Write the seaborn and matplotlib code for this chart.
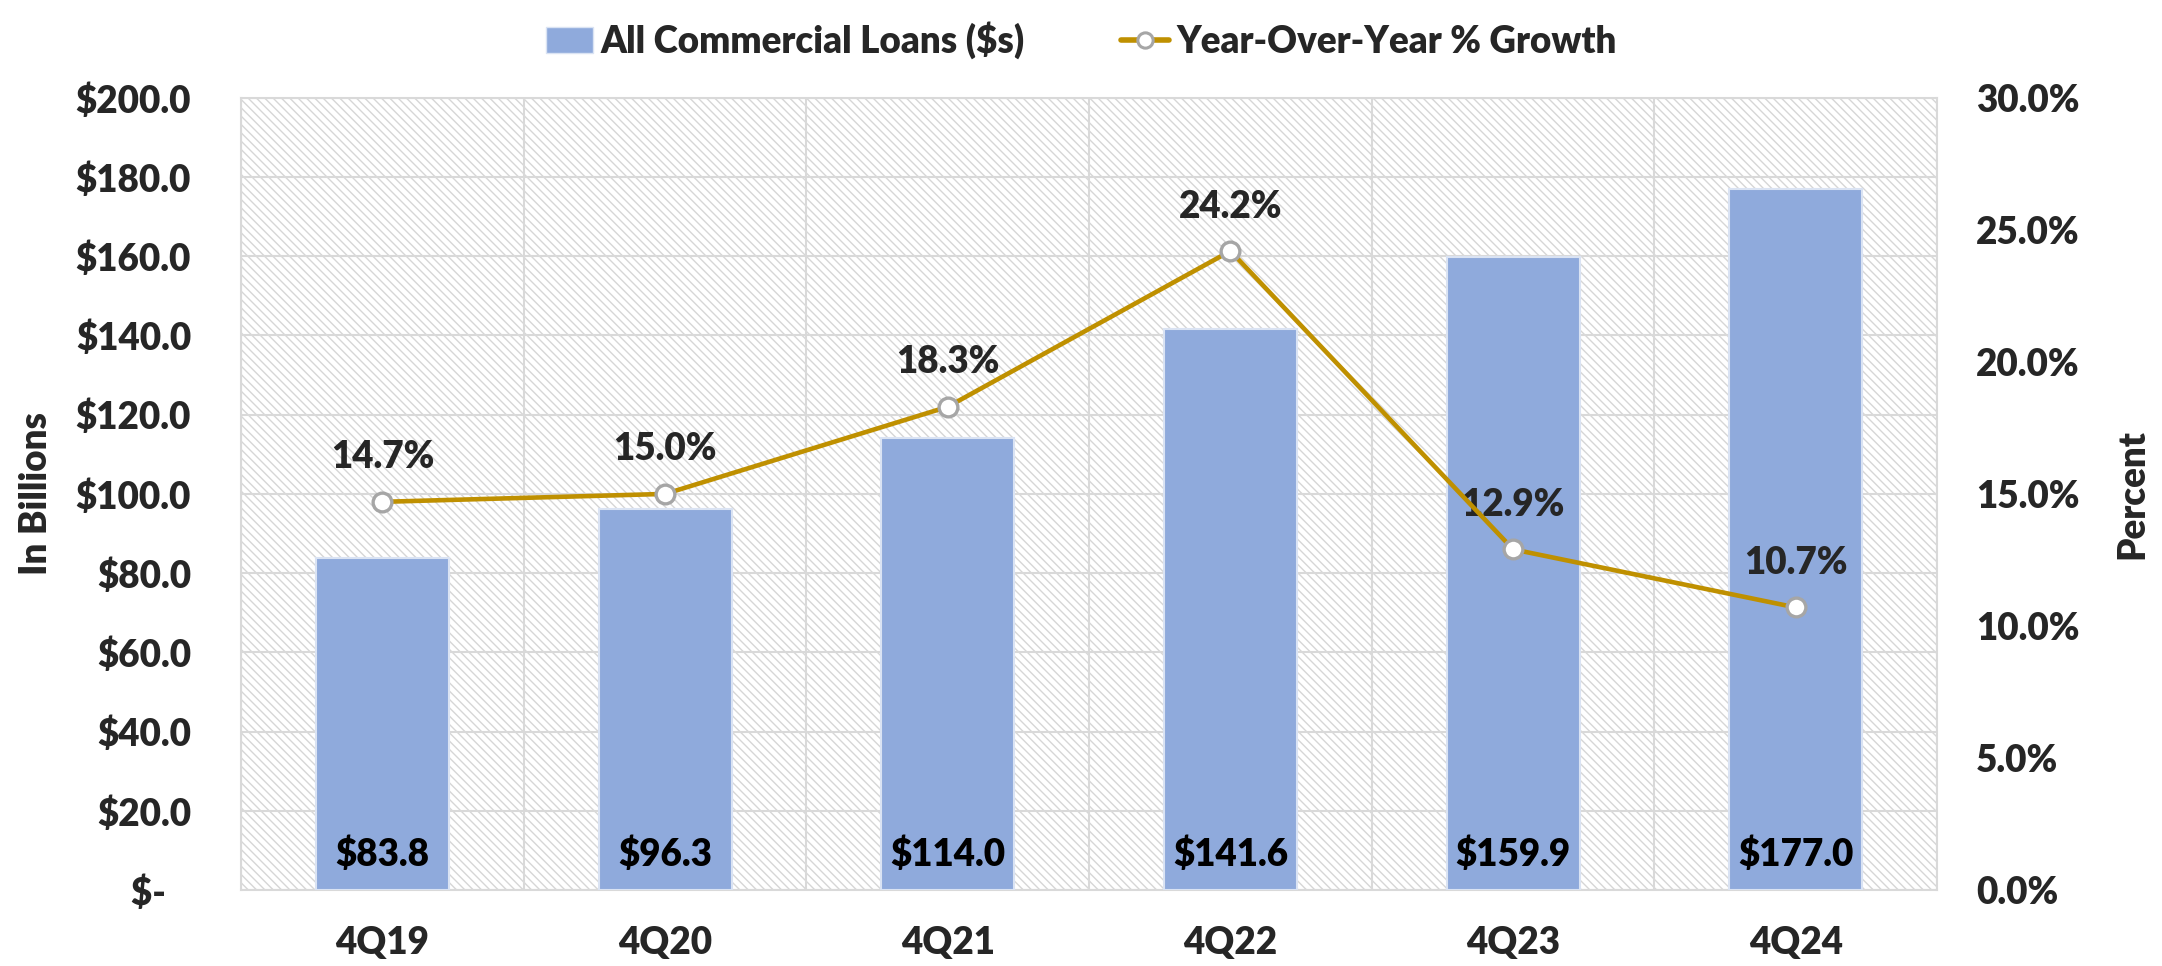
import numpy as np
import pandas as pd
import seaborn as sns
import matplotlib.pyplot as plt
from matplotlib.patches import Patch, Rectangle
from matplotlib.lines import Line2D
from matplotlib.ticker import FuncFormatter, FixedLocator

# Datos del gráfico
trimestres = ["4Q19", "4Q20", "4Q21", "4Q22", "4Q23", "4Q24"]
prestamos = [83.8, 96.3, 114.0, 141.6, 159.9, 177.0]
crecimiento = [14.7, 15.0, 18.3, 24.2, 12.9, 10.7]

df = pd.DataFrame({"Trimestre": trimestres, "Prestamos": prestamos,
                   "Crecimiento": crecimiento})
df["pos"] = np.arange(len(df))

color_barra = "#8FAADC"
color_linea = "#BF9000"
gris = "#D9D9D9"
fs = 26.5
peso = "heavy"

sns.set_theme(style="white")
plt.rcParams["font.family"] = ["Lato", "DejaVu Sans"]
plt.rcParams["font.weight"] = peso
plt.rcParams["hatch.color"] = "#D6D6D6"
plt.rcParams["hatch.linewidth"] = 1.0

fig = plt.figure(figsize=(21.62, 9.66), dpi=100)
ax = fig.add_axes([0.1115, 0.0787, 0.7845, 0.82])

# Fondo rayado
ax.add_patch(Rectangle((0, 0), 1, 1, transform=ax.transAxes, facecolor="white",
                       edgecolor="#D6D6D6", hatch="\\\\\\\\", lw=0, zorder=0))

sns.barplot(data=df, x="Trimestre", y="Prestamos", ax=ax, color=color_barra,
            width=0.47, edgecolor="#DAE3F3", linewidth=1.5, saturation=1, zorder=3)

ax.set_ylim(0, 200)
ax.set_xlim(-0.5, len(trimestres) - 0.5)
ax.set_yticks(np.arange(0, 201, 20))
ax.yaxis.set_major_formatter(FuncFormatter(lambda v, p: "$-   " if v == 0 else f"${v:.1f}"))
ax.xaxis.set_minor_locator(FixedLocator(np.arange(-0.5, len(trimestres), 1)))
ax.grid(axis="y", which="major", color=gris, lw=1.5, zorder=1)
ax.grid(axis="x", which="minor", color=gris, lw=1.5, zorder=1)
ax.tick_params(axis="x", which="major", length=0, pad=26, labelsize=fs)
ax.tick_params(axis="x", which="minor", length=11, width=1.5, color=gris)
ax.tick_params(axis="y", length=0, pad=36, labelsize=fs)
for lab in ax.get_xticklabels() + ax.get_yticklabels():
    lab.set_fontweight(peso)
for s in ax.spines.values():
    s.set_color(gris)
    s.set_linewidth(1.5)
ax.set_xlabel("")
ax.set_ylabel("In Billions", fontsize=fs, fontweight=peso, labelpad=16)
ax.set_axisbelow(True)

# Etiquetas de las barras
for x, v in zip(df["pos"], prestamos):
    ax.text(x, 9, f"${v:.1f}", ha="center", va="center", fontsize=fs,
            fontweight=peso, color="black", zorder=5)

# Eje secundario con la línea
ax2 = ax.twinx()
sns.lineplot(data=df, x="pos", y="Crecimiento", ax=ax2, color=color_linea, lw=3.3,
             marker="o", markersize=13.5, markerfacecolor="white",
             markeredgecolor="#A6A6A6", markeredgewidth=2.4, zorder=4)
ax2.set_ylim(0, 30)
ax2.set_yticks(np.arange(0, 31, 5))
ax2.yaxis.set_major_formatter(FuncFormatter(lambda v, p: f"{v:.1f}%"))
ax2.tick_params(axis="y", length=0, pad=28, labelsize=fs)
for lab in ax2.get_yticklabels():
    lab.set_fontweight(peso)
for s in ax2.spines.values():
    s.set_visible(False)
ax2.set_xlabel("")
ax2.set_ylabel("Percent", fontsize=fs, fontweight=peso, labelpad=26)
ax2.set_xlim(-0.5, len(trimestres) - 0.5)

for x, v in zip(df["pos"], crecimiento):
    ax2.annotate(f"{v:.1f}%", (x, v), xytext=(0, 32), textcoords="offset points",
                 ha="center", va="center", fontsize=fs, fontweight=peso)

# Leyenda
handles = [Patch(facecolor=color_barra, edgecolor="#DAE3F3"),
           Line2D([], [], color=color_linea, lw=4, marker="o", markersize=11,
                  markerfacecolor="white", markeredgecolor="#A6A6A6", markeredgewidth=2.2)]
fig.legend(handles, ["All Commercial Loans ($s)", "Year-Over-Year % Growth"],
           loc="upper center", bbox_to_anchor=(0.5, 1.012), ncol=2, frameon=False,
           handlelength=1.3, handletextpad=0.2, columnspacing=2.6,
           prop={"weight": peso, "size": fs})

fig.savefig("out.png", dpi=100)
